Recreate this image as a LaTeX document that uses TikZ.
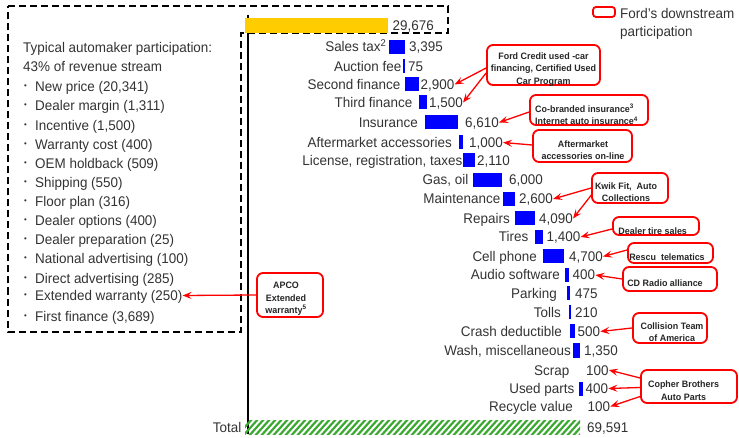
\documentclass[tikz,border=0pt]{standalone}
\usepackage{fontspec}
\setmainfont{Liberation Sans}[FakeStretch=0.96]
\usetikzlibrary{arrows.meta,calc}
\definecolor{txt}{HTML}{333333}
\definecolor{fordred}{HTML}{FF0000}
\definecolor{barblue}{HTML}{0000FF}
\definecolor{baryellow}{HTML}{FFCC00}
\definecolor{hatchgreen}{HTML}{3CAA32}
\tikzset{
  lbl/.style={anchor=east, inner sep=0pt, text=txt, font=\fontsize{14}{16}\selectfont, text height=10pt, text depth=0pt},
  val/.style={anchor=west, inner sep=0pt, text=txt, font=\fontsize{14}{16}\selectfont, text height=10pt, text depth=0pt},
  lst/.style={anchor=west, inner sep=0pt, text=txt, font=\fontsize{14}{16}\selectfont, text height=10pt, text depth=0pt},
  bul/.style={inner sep=0pt, text=txt, font=\fontsize{8}{8}\selectfont},
  callbox/.style={draw=fordred, line width=1.8pt, rounded corners=6pt, inner sep=0pt},
  calltxt/.style={inner sep=0pt, text=black!85, font=\bfseries\fontsize{9.3}{12.5}\selectfont, align=center},
  carrow/.style={draw=fordred, line width=1.3pt, -{Stealth[length=9pt,width=7pt,inset=3.5pt]}},
  dashbox/.style={line width=2pt, dash pattern=on 7pt off 4pt},
  bluebar/.style={fill=barblue}
}
% name, y, label end, bar x0, bar x1, value start, label, value
\newcommand\wrow[8]{%
  \node[lbl] (l-#1) at (#3,#2) {#7};
  \fill[bluebar] (#4,#2-7) rectangle (#5,#2+7);
  \node[val] (v-#1) at (#6,#2) {#8};
}
\newcommand\nrow[5]{%
  \node[lbl] (l-#1) at (#3,#2) {#4};
  \node[val] (v-#1) at (#5,#2) {100};
}
\newcommand\litem[3]{%
  \node[bul] (b-#1) at (25.5,#2) {•};
  \node[lst] (it-#1) at (35,#2) {#3};
}
\begin{document}
\begin{tikzpicture}[x=1pt,y=-1pt]
\fill[white] (0,0) rectangle (739,438);
\useasboundingbox (0,0) rectangle (739,438);

% dashed outline of automaker participation
\draw[dashbox] (8,6.5) -- (448,6.5) -- (448,33) -- (241,33) -- (241,332) -- (8,332) -- cycle;

% axis
\draw[line width=1.5pt] (248,15) -- (248,434);

% left list
\node[lst] (head1) at (23,48) {Typical automaker participation:};
\node[lst] (head2) at (23,66.5) {43\% of revenue stream};
\litem{np}{87}{New price (20,341)}
\litem{dm}{106}{Dealer margin (1,311)}
\litem{inc}{125.5}{Incentive (1,500)}
\litem{wc}{145}{Warranty cost (400)}
\litem{oem}{163.5}{OEM holdback (509)}
\litem{sh}{183}{Shipping (550)}
\litem{fp}{202}{Floor plan (316)}
\litem{do}{221}{Dealer options (400)}
\litem{dp}{239.5}{Dealer preparation (25)}
\litem{na}{259}{National advertising (100)}
\litem{da}{278.5}{Direct advertising (285)}
\litem{ew}{295.5}{Extended warranty (250)}
\litem{ff}{316.5}{First finance (3,689)}

% top bar
\fill[baryellow] (245,18) rectangle (388,33);
\node[val] (v-top) at (392.5,25.5) {29,676};

% waterfall rows
\wrow{salestax}{46.7}{386.5}{388.5}{404.5}{409}{Sales tax\textsuperscript{2}}{3,395}
\wrow{auction}{66.5}{401.5}{403}{405}{408}{Auction fee}{75}
\wrow{second}{84.5}{400.5}{405}{419}{420.5}{Second finance}{2,900}
\wrow{third}{102.5}{412.5}{419}{427}{429}{Third finance}{1,500}
\wrow{ins}{122.5}{418}{425}{458}{465}{Insurance}{6,610}
\wrow{aft}{142.5}{452}{459}{463}{469}{Aftermarket accessories}{1,000}
\wrow{lic}{160.5}{462.5}{463}{475}{477}{License, registration, taxes}{2,110}
\wrow{gas}{180}{468.5}{473}{501.5}{509}{Gas, oil}{6,000}
\wrow{maint}{199}{500.5}{503}{515}{519}{Maintenance}{2,600}
\wrow{rep}{218.5}{510}{515}{535}{539}{Repairs}{4,090}
\wrow{tires}{237}{528.5}{535}{542.5}{546.5}{Tires}{1,400}
\wrow{cell}{256.5}{537}{543}{564}{569}{Cell phone}{4,700}
\wrow{audio}{275}{560}{565}{568.5}{572.5}{Audio software}{400}
\wrow{park}{293.5}{557}{567}{569.5}{575}{Parking}{475}
\wrow{tolls}{312.5}{561}{569}{571}{575}{Tolls}{210}
\wrow{crash}{331.5}{562}{569.5}{575}{577.5}{Crash deductible}{500}
\wrow{wash}{350.5}{571}{573}{579.5}{584}{Wash, miscellaneous}{1,350}
\nrow{scrap}{370}{569.5}{Scrap}{586}
\wrow{used}{388.5}{574.5}{579}{583}{585.5}{Used parts}{400}
\nrow{recyc}{406.5}{573}{Recycle value}{587.5}

% total
\node[lbl] (l-total) at (241.5,427) {Total};
\begin{scope}
  \clip (245,420) rectangle (580,434);
  \foreach \i in {0,...,60} {\draw[hatchgreen, line width=2.2pt] (\i*6+236,437) -- ++(17,-19);}
\end{scope}
\node[val] (v-total) at (587,427) {69,591};

% legend
\node[callbox, rounded corners=3pt, minimum width=22pt, minimum height=10pt] (leg) at (604,12) {};
\node[anchor=north west, inner sep=0pt, align=left, text=txt, font=\fontsize{14}{18.4}\selectfont] (leg-t) at (620,8) {Ford’s downstream\\participation};

% callout boxes
\node[callbox, minimum width=113pt, minimum height=40pt] (ford) at (543.5,65) {};
\node[calltxt] (ford-t) at (543.5,69.2) {Ford Credit used -car\\financing, Certified Used\\Car Program};
\node[callbox, minimum width=118pt, minimum height=30pt] (cob) at (589,110) {};
\node[calltxt, align=left, anchor=west] (cob-t) at (535,114.5) {Co-branded insurance\textsuperscript{3}\\Internet auto insurance\textsuperscript{4}};
\node[callbox, minimum width=99pt, minimum height=32pt] (aftb) at (582.5,146) {};
\node[calltxt] (aft-t) at (583,150.3) {Aftermarket\\accessories on-line};
\node[callbox, minimum width=76pt, minimum height=30pt] (kwik) at (630,188) {};
\node[calltxt] (kwik-t) at (626,192) {Kwik Fit,\ \ Auto\\Collections};
\node[callbox, minimum width=86pt, minimum height=18pt] (tire) at (656,226) {};
\node[calltxt] (tire-t) at (652.7,230.7) {Dealer tire sales};
\node[callbox, minimum width=85pt, minimum height=20pt] (rescu) at (670.5,253) {};
\node[calltxt] (rescu-t) at (667,256.7) {Rescu\ \ telematics};
\node[callbox, minimum width=94pt, minimum height=24pt] (cd) at (670,279) {};
\node[calltxt] (cd-t) at (665,282.7) {CD Radio alliance};
\node[callbox, minimum width=74pt, minimum height=30pt] (col) at (670,328) {};
\node[calltxt] (col-t) at (672,332.2) {Collision Team\\of America};
\node[callbox, minimum width=96pt, minimum height=33pt] (cop) at (689,386.5) {};
\node[calltxt] (cop-t) at (683.6,390.8) {Copher Brothers\\Auto Parts};
\node[callbox, minimum width=66pt, minimum height=44pt] (apco) at (290,295) {};
\node[calltxt] (apco-t) at (286,298.8) {APCO\\Extended\\warranty\textsuperscript{5}};

% callout arrows
\draw[carrow] ($(ford.west)+(0,3)$) -- (v-second.east);
\draw[carrow] ($(ford.west)+(0,8)$) -- (v-third.east);
\draw[carrow] ($(cob.west)+(0,2)$) -- (v-ins.east);
\draw[carrow] ($(aftb.west)+(0,-1)$) -- (v-aft.east);
\draw[carrow] (kwik.west) -- (v-maint.east);
\draw[carrow] ($(kwik.west)+(1,6)$) -- (v-rep.east);
\draw[carrow] ($(tire.west)+(0,3)$) -- (v-tires.east);
\draw[carrow] ($(rescu.west)+(0,-3)$) -- (v-cell.east);
\draw[carrow] (cd.west) -- (v-audio.east);
\draw[carrow] (col.west) -- (v-crash.east);
\draw[carrow] ($(cop.west)+(0,-8.5)$) -- (v-scrap.east);
\draw[carrow] ($(cop.west)+(0,1)$) -- (v-used.east);
\draw[carrow] ($(cop.west)+(0,10)$) -- (v-recyc.east);
\draw[carrow] (apco.west) -- (it-ew.east);
\end{tikzpicture}
\end{document}
